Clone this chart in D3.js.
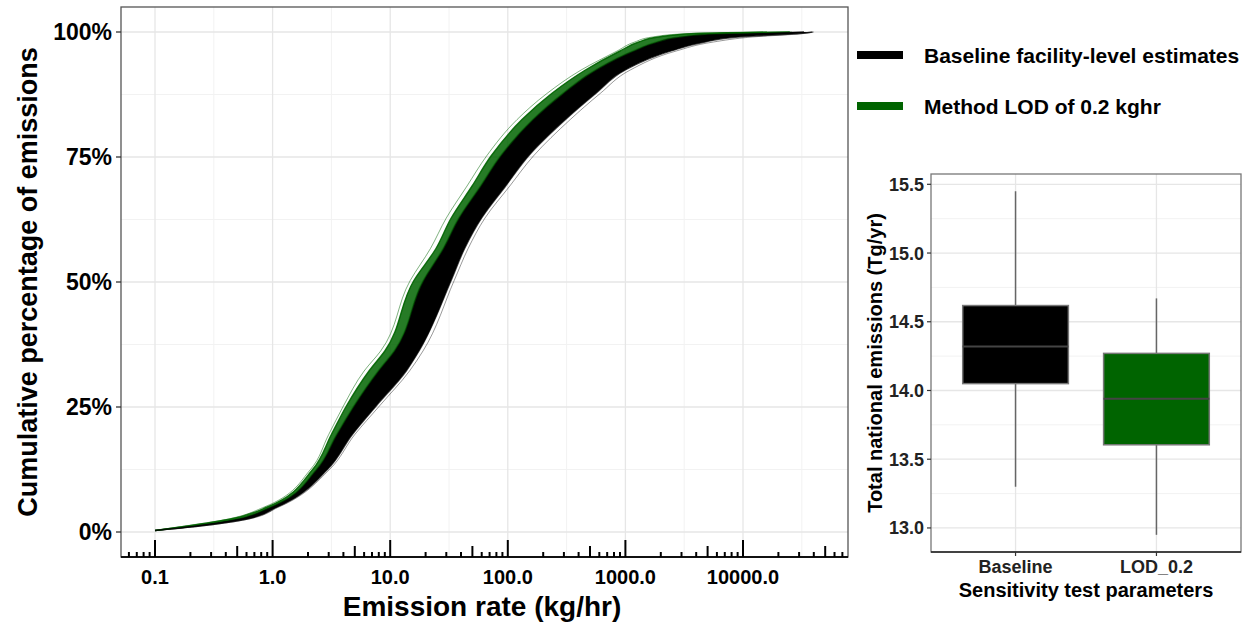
<!DOCTYPE html>
<html>
<head>
<meta charset="utf-8">
<script src="https://cdn.jsdelivr.net/npm/d3@7"></script>
<style>
  html, body { margin: 0; padding: 0; background: #fff; }
  svg { display: block; font-family: "Liberation Sans", Arial, sans-serif; font-weight: bold; }
</style>
</head>
<body>
<svg id="chart" width="1252" height="632"></svg>
<script>
// cumulative share levels, shared by all the ecdf curves below
const cdfLevels = [0.003, 0.012, 0.025, 0.05, 0.125, 0.195, 0.252, 0.322, 0.362, 0.503, 0.567,
  0.628, 0.692, 0.752, 0.825, 0.877, 0.924, 0.962, 0.98, 0.99, 0.997, 1.0];

// emission rate (kg/hr) reached at each level
const baselineOuter = [0.1, 0.25, 0.6, 1.13, 3.05, 5.0, 8.1, 14.6, 19, 35, 46, 64, 104, 165, 340, 610, 1100, 2700, 5600, 12000, 33000, 40000];
const baselineEdge = [0.1, 0.24, 0.58, 1.1, 2.93, 4.77, 7.6, 13.7, 17.6, 33, 43, 60, 96, 150, 310, 560, 1000, 2450, 4760, 9100, 30000, 39000];
const baselineInner = [0.1, 0.225, 0.54, 1.05, 2.72, 4.3, 6.57, 11.4, 15.1, 27.5, 37.4, 51.7, 81.4, 125, 250, 451, 822, 1920, 3520, 6180, 17000, 33000];
const baselineMid = [0.1, 0.21, 0.5, 1.0, 2.53, 3.88, 5.68, 9.5, 12.9, 22.9, 32.5, 44.5, 69, 104, 202, 364, 676, 1500, 2600, 4200, 9000, 20000];
const lodInner = [0.1, 0.2, 0.46, 0.95, 2.35, 3.5, 4.9, 7.9, 10.8, 19.1, 28.2, 38.3, 58.6, 86.5, 163, 293, 556, 1160, 1840, 2820, 6000, 16000];
const lodEdge = [0.1, 0.19, 0.42, 0.9, 2.19, 3.16, 4.24, 6.6, 9.0, 15.9, 24.5, 33, 49.7, 72, 132, 236, 457, 900, 1300, 1900, 4000, 25000];
const lodOuter = [0.1, 0.18, 0.4, 0.85, 2.1, 3.0, 4.0, 6.0, 8.3, 14.8, 22, 30, 45, 66, 120, 215, 420, 850, 1200, 1700, 3500, 26000];

const xTickValues = [0.1, 1, 10, 100, 1000, 10000];
const yTickValues = [0, 0.25, 0.5, 0.75, 1];
const yTickLabels = ["0%", "25%", "50%", "75%", "100%"];

const legendLabels = ["Baseline facility-level estimates", "Method LOD of 0.2 kghr"];
const seriesColors = ["#000000", "#006400"];

// boxplot of total national emissions (Tg/yr)
const boxCategories = ["Baseline", "LOD_0.2"];
const boxWhiskerLow = [13.30, 12.95];
const boxQ1 = [14.05, 13.605];
const boxMedian = [14.32, 13.94];
const boxQ3 = [14.618, 14.27];
const boxWhiskerHigh = [15.45, 14.67];
const boxTickValues = [13.0, 13.5, 14.0, 14.5, 15.0, 15.5];

const svg = d3.select("#chart");
const gridMajor = "#e6e6e6";
const gridMinor = "#f2f2f2";

// ---------- main ecdf panel ----------
const P = { left: 121, right: 848, top: 7, bottom: 557 };
const x = d3.scaleLog().domain([0.1, 10000]).range([155, 743]);
const y = d3.scaleLinear().domain([-0.05, 1.05]).range([P.bottom, P.top]);

svg.append("defs").append("clipPath").attr("id", "panelClip")
  .append("rect").attr("x", P.left).attr("y", P.top)
  .attr("width", P.right - P.left).attr("height", P.bottom - P.top);

const grid = svg.append("g");
const xMinor = xTickValues.concat([100000]).map(v => Math.sqrt(v * v / 10));
grid.selectAll(".xmin").data(xMinor.filter(v => x(v) > P.left && x(v) < P.right)).join("line")
  .attr("x1", d => x(d)).attr("x2", d => x(d)).attr("y1", P.top).attr("y2", P.bottom)
  .attr("stroke", gridMinor).attr("stroke-width", 1);
const yMinor = yTickValues.slice(1).map(v => v - 0.125);
grid.selectAll(".ymin").data(yMinor).join("line")
  .attr("x1", P.left).attr("x2", P.right).attr("y1", d => y(d)).attr("y2", d => y(d))
  .attr("stroke", gridMinor).attr("stroke-width", 1);
grid.selectAll(".xmaj").data(xTickValues).join("line")
  .attr("x1", d => x(d)).attr("x2", d => x(d)).attr("y1", P.top).attr("y2", P.bottom)
  .attr("stroke", gridMajor).attr("stroke-width", 1.3);
grid.selectAll(".ymaj").data(yTickValues).join("line")
  .attr("x1", P.left).attr("x2", P.right).attr("y1", d => y(d)).attr("y2", d => y(d))
  .attr("stroke", gridMajor).attr("stroke-width", 1.3);

const curves = svg.append("g").attr("clip-path", "url(#panelClip)");

const band = (a, b) => d3.area()
  .curve(d3.curveMonotoneY)
  .y((d, i) => y(cdfLevels[i]))
  .x0((d, i) => x(a[i]))
  .x1((d, i) => x(b[i]))(cdfLevels);

const line = rates => d3.line()
  .curve(d3.curveMonotoneY)
  .x((d, i) => x(rates[i]))
  .y((d, i) => y(cdfLevels[i]))(cdfLevels);

// green sits on the upper-left side, black covers the rest of the band
curves.append("path").attr("d", band(lodEdge, baselineMid))
  .attr("fill", seriesColors[1]).attr("fill-opacity", 0.85);
curves.append("path").attr("d", band(lodInner, baselineEdge))
  .attr("fill", "#000").attr("fill-opacity", 1);

const strokes = [
  { rates: baselineOuter, color: seriesColors[0], op: 0.4, w: 1 },
  { rates: baselineEdge, color: seriesColors[0], op: 0.7, w: 1.3 },
  { rates: lodOuter, color: seriesColors[1], op: 0.5, w: 1 },
  { rates: lodEdge, color: seriesColors[1], op: 0.9, w: 1.4 },
  { rates: lodInner, color: seriesColors[1], op: 0.5, w: 1.6 },
  { rates: baselineInner, color: seriesColors[0], op: 0.8, w: 1.5 }
];
curves.selectAll(".ln").data(strokes).join("path")
  .attr("d", d => line(d.rates)).attr("fill", "none")
  .attr("stroke", d => d.color).attr("stroke-opacity", d => d.op).attr("stroke-width", d => d.w);

// panel frame
svg.append("rect").attr("x", P.left).attr("y", P.top)
  .attr("width", P.right - P.left).attr("height", P.bottom - P.top)
  .attr("fill", "none").attr("stroke", "#555").attr("stroke-width", 1.3);
svg.append("line").attr("x1", P.left).attr("x2", P.right).attr("y1", P.bottom).attr("y2", P.bottom)
  .attr("stroke", "#111").attr("stroke-width", 2);

// log ticks along the bottom
const tickScale = x.copy().domain([x.invert(P.left + 1), x.invert(P.right - 1)]).range([P.left + 1, P.right - 1]);
const logTicks = tickScale.ticks().map(t => {
  const m = Math.round(t / Math.pow(10, Math.floor(Math.log10(t) + 1e-9)));
  return { v: t, len: m === 1 ? 17 : m === 5 ? 11 : 5 };
});
svg.append("g").selectAll("line").data(logTicks).join("line")
  .attr("x1", d => x(d.v)).attr("x2", d => x(d.v))
  .attr("y1", P.bottom).attr("y2", d => P.bottom - d.len)
  .attr("stroke", "#000").attr("stroke-width", 2);

// axes labels
svg.append("g").selectAll("text").data(xTickValues).join("text")
  .attr("x", d => x(d)).attr("y", 584).attr("text-anchor", "middle")
  .attr("font-size", 20).attr("fill", "#000").text(d3.format(".1f"));

svg.append("g").selectAll("line").data(yTickValues).join("line")
  .attr("x1", P.left - 5).attr("x2", P.left).attr("y1", d => y(d)).attr("y2", d => y(d))
  .attr("stroke", "#333").attr("stroke-width", 1.3);
svg.append("g").selectAll("text").data(yTickValues).join("text")
  .attr("x", P.left - 9).attr("y", d => y(d)).attr("dy", "0.36em").attr("text-anchor", "end")
  .attr("font-size", 23).attr("fill", "#000").text((d, i) => yTickLabels[i]);

svg.append("text").attr("x", 482).attr("y", 616).attr("text-anchor", "middle")
  .attr("font-size", 28).attr("fill", "#000").text("Emission rate (kg/hr)");
svg.append("text").attr("transform", `translate(27,${(P.top + P.bottom) / 2}) rotate(-90)`)
  .attr("dy", "0.36em").attr("text-anchor", "middle")
  .attr("font-size", 27).attr("fill", "#000").text("Cumulative percentage of emissions");

// ---------- legend ----------
const legend = svg.append("g").selectAll("g").data(legendLabels).join("g")
  .attr("transform", (d, i) => `translate(857,${55 + i * 51})`);
legend.append("rect").attr("x", 0).attr("y", -4).attr("width", 46).attr("height", 8)
  .attr("fill", (d, i) => seriesColors[i]);
legend.append("text").attr("x", 67).attr("dy", "0.36em").attr("font-size", 21)
  .attr("fill", "#000").text(d => d);

// ---------- boxplot panel ----------
const B = { left: 931, right: 1241, top: 174, bottom: 552 };
const bx = d3.scalePoint().domain(boxCategories).range([B.left, B.right]).padding(0.6);
const by = d3.scaleLinear().domain([12.825, 15.575]).range([B.bottom, B.top]);
const boxW = bx.step() * 0.75;

const bgrid = svg.append("g");
bgrid.selectAll(".min").data(boxTickValues.slice(1).map(v => v - 0.25)).join("line")
  .attr("x1", B.left).attr("x2", B.right).attr("y1", d => by(d)).attr("y2", d => by(d))
  .attr("stroke", gridMinor).attr("stroke-width", 1);
bgrid.selectAll(".maj").data(boxTickValues).join("line")
  .attr("x1", B.left).attr("x2", B.right).attr("y1", d => by(d)).attr("y2", d => by(d))
  .attr("stroke", gridMajor).attr("stroke-width", 1.3);
bgrid.selectAll(".vx").data(boxCategories).join("line")
  .attr("x1", d => bx(d)).attr("x2", d => bx(d)).attr("y1", B.top).attr("y2", B.bottom)
  .attr("stroke", gridMajor).attr("stroke-width", 1.3);

const boxes = svg.append("g").selectAll("g").data(boxCategories).join("g");
boxes.append("line")
  .attr("x1", d => bx(d)).attr("x2", d => bx(d))
  .attr("y1", (d, i) => by(boxWhiskerHigh[i])).attr("y2", (d, i) => by(boxWhiskerLow[i]))
  .attr("stroke", "#666").attr("stroke-width", 1.5);
boxes.append("rect")
  .attr("x", d => bx(d) - boxW / 2).attr("width", boxW)
  .attr("y", (d, i) => by(boxQ3[i])).attr("height", (d, i) => by(boxQ1[i]) - by(boxQ3[i]))
  .attr("fill", (d, i) => seriesColors[i]).attr("stroke", "#777").attr("stroke-width", 1.5);
boxes.append("line")
  .attr("x1", d => bx(d) - boxW / 2).attr("x2", d => bx(d) + boxW / 2)
  .attr("y1", (d, i) => by(boxMedian[i])).attr("y2", (d, i) => by(boxMedian[i]))
  .attr("stroke", "#444").attr("stroke-width", 2.2);

svg.append("rect").attr("x", B.left).attr("y", B.top)
  .attr("width", B.right - B.left).attr("height", B.bottom - B.top)
  .attr("fill", "none").attr("stroke", "#777").attr("stroke-width", 1.3);
svg.append("line").attr("x1", B.left).attr("x2", B.right).attr("y1", B.bottom).attr("y2", B.bottom)
  .attr("stroke", "#222").attr("stroke-width", 1.5);

svg.append("g").selectAll("line").data(boxTickValues).join("line")
  .attr("x1", B.left - 4).attr("x2", B.left).attr("y1", d => by(d)).attr("y2", d => by(d))
  .attr("stroke", "#333").attr("stroke-width", 1.2);
svg.append("g").selectAll("text").data(boxTickValues).join("text")
  .attr("x", B.left - 7).attr("y", d => by(d)).attr("dy", "0.36em").attr("text-anchor", "end")
  .attr("font-size", 18).attr("fill", "#222").text(d3.format(".1f"));
svg.append("g").selectAll("line").data(boxCategories).join("line")
  .attr("x1", d => bx(d)).attr("x2", d => bx(d)).attr("y1", B.bottom).attr("y2", B.bottom + 4)
  .attr("stroke", "#333").attr("stroke-width", 1.2);
svg.append("g").selectAll("text").data(boxCategories).join("text")
  .attr("x", d => bx(d)).attr("y", 567).attr("dy", "0.36em").attr("text-anchor", "middle")
  .attr("font-size", 18).attr("fill", "#222").text(d => d);

svg.append("text").attr("x", (B.left + B.right) / 2).attr("y", 590).attr("dy", "0.36em")
  .attr("text-anchor", "middle").attr("font-size", 20).attr("fill", "#000")
  .text("Sensitivity test parameters");
svg.append("text").attr("transform", `translate(875,${(B.top + B.bottom) / 2}) rotate(-90)`)
  .attr("dy", "0.36em").attr("text-anchor", "middle").attr("font-size", 20).attr("fill", "#000")
  .text("Total national emissions (Tg/yr)");
</script>
</body>
</html>
